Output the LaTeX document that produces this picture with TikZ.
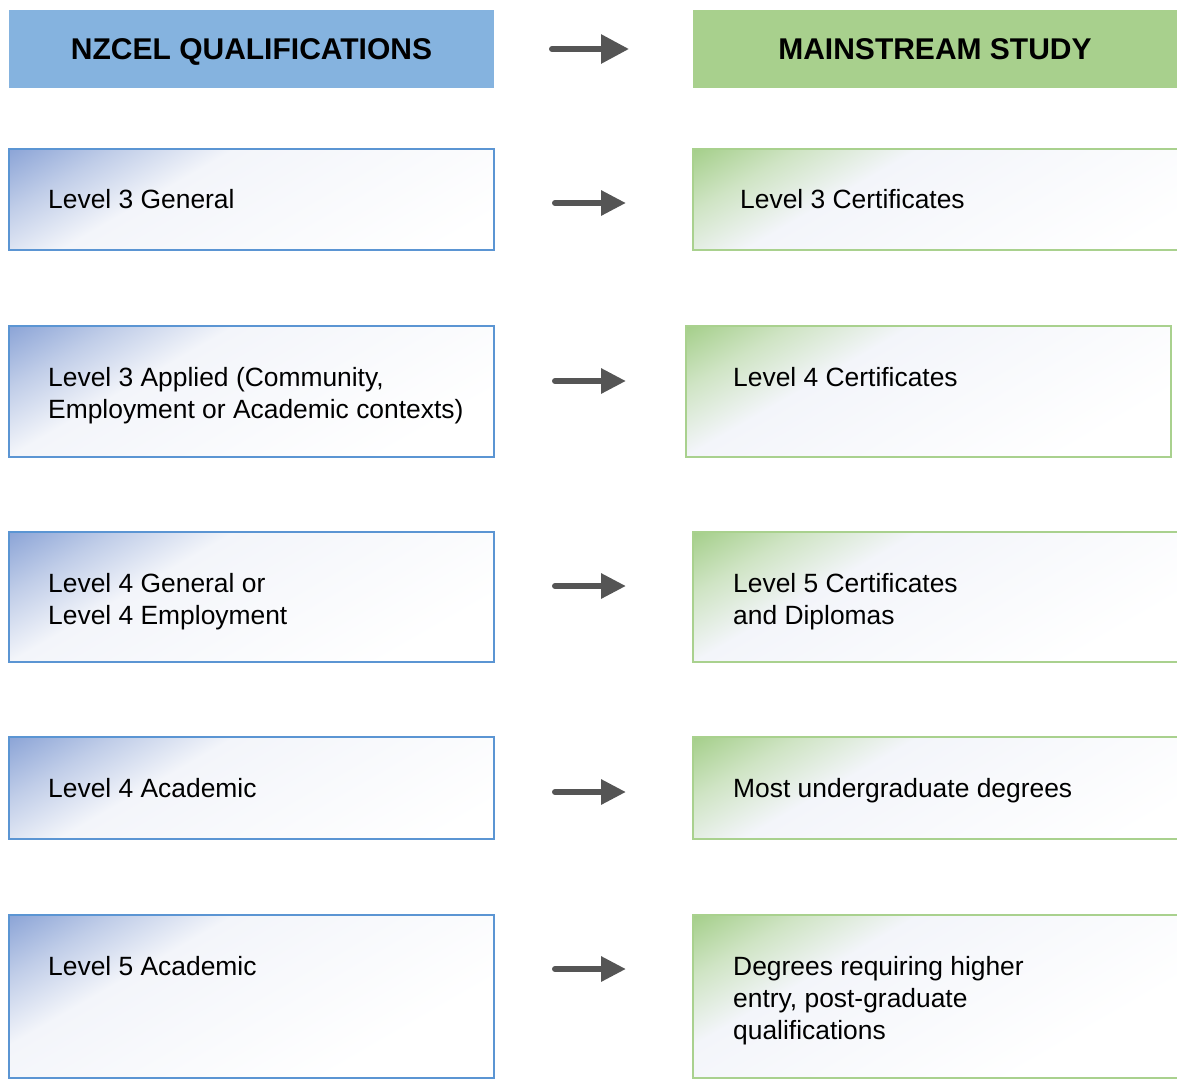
\documentclass[tikz,border=0pt]{standalone}
\usepackage{fontspec}
\setmainfont{Liberation Sans}
\usetikzlibrary{arrows.meta}

% palette
\definecolor{hdrblue}{HTML}{85B3DF}
\definecolor{hdrgreen}{HTML}{A8D08D}
\definecolor{bline}{HTML}{5B95D3}
\definecolor{gline}{HTML}{A9D18E}
\definecolor{bcorner}{HTML}{8AA3D6}
\definecolor{bmid}{HTML}{C0CDE8}
\definecolor{gcorner}{HTML}{A3CE88}
\definecolor{gmid}{HTML}{CFE4C4}
\definecolor{paleend}{HTML}{F3F5FA}
\definecolor{agray}{HTML}{555555}

% corner-to-corner fades used inside the boxes
% (laid on a 500pt square from the box's top-left corner, turned by -60 degrees)
\pgfdeclarehorizontalshading{bluefade}{100bp}{color(0bp)=(bcorner); color(15.5bp)=(bcorner);
  color(21bp)=(bmid); color(27bp)=(paleend); color(46bp)=(white); color(100bp)=(white)}
\pgfdeclarehorizontalshading{greenfade}{100bp}{color(0bp)=(gcorner); color(15.5bp)=(gcorner);
  color(21bp)=(gmid); color(27bp)=(paleend); color(46bp)=(white); color(100bp)=(white)}

\tikzset{
  x=1pt, y=-1pt,
  hdr/.style={minimum width=485pt, minimum height=78pt, inner sep=0pt,
    font=\fontsize{30}{36}\selectfont\bfseries, text height=21.5pt, text depth=0pt},
  fadebox/.style={path picture={
      \shade[shading=#1, shading angle=-60]
        (path picture bounding box.north west) rectangle ++(500,500);}},
  qbox/.style={draw=bline, line width=1.6pt, fill=white, inner sep=0pt,
    minimum width=485pt, fadebox=bluefade},
  sbox/.style={draw=gline, line width=1.6pt, fill=white, inner sep=0pt,
    minimum width=494pt, fadebox=greenfade},
  label/.style={anchor=base west, inner sep=0pt, font=\fontsize{26.4}{32}\selectfont},
  flow/.style={draw=agray, line width=6pt, line cap=round,
    -{Triangle[length=25pt, width=24pt]}},
  bigflow/.style={flow, -{Triangle[length=28pt, width=28pt]}}
}

\newcommand{\twolines}[2]{\begin{tabular}[t]{@{}l@{}}#1\\#2\end{tabular}}
\newcommand{\threelines}[3]{\begin{tabular}[t]{@{}l@{}}#1\\#2\\#3\end{tabular}}

\begin{document}
\begin{tikzpicture}
  \useasboundingbox (0,0) rectangle (1177,1080);
  \clip (0,0) rectangle (1177,1080);

  % column headings
  \node[hdr, fill=hdrblue] (hq) at (251.5,49) {NZCEL QUALIFICATIONS};
  \node[hdr, fill=hdrgreen, minimum width=484pt] (hs) at (935,49) {MAINSTREAM STUDY};

  % NZCEL qualification boxes
  \node[qbox, minimum height=101pt] (q1) at (251.5,199.5) {};
  \node[qbox, minimum height=131pt] (q2) at (251.5,391.5) {};
  \node[qbox, minimum height=130pt] (q3) at (251.5,597) {};
  \node[qbox, minimum height=102pt] (q4) at (251.5,788) {};
  \node[qbox, minimum height=163pt] (q5) at (251.5,996.5) {};

  % mainstream study boxes
  \node[sbox, minimum height=101pt] (s1) at (940,199.5) {};
  \node[sbox, minimum height=131pt, minimum width=485pt] (s2) at (928.5,391.5) {};
  \node[sbox, minimum height=130pt] (s3) at (940,597) {};
  \node[sbox, minimum height=102pt] (s4) at (940,788) {};
  \node[sbox, minimum height=163pt] (s5) at (940,996.5) {};

  % box texts
  \node[label] (tq1) at (48,208.5) {Level 3 General};
  \node[label] (tq2) at (48,386.5) {\twolines{Level 3 Applied (Community,}{Employment or Academic contexts)}};
  \node[label] (tq3) at (48,592.5) {\twolines{Level 4 General or}{Level 4 Employment}};
  \node[label] (tq4) at (48,797.5) {Level 4 Academic};
  \node[label] (tq5) at (48,975.5) {Level 5 Academic};

  \node[label] (ts1) at (740,208.5) {Level 3 Certificates};
  \node[label] (ts2) at (733,386.5) {Level 4 Certificates};
  \node[label] (ts3) at (733,592.5) {\twolines{Level 5 Certificates}{and Diplomas}};
  \node[label] (ts4) at (733,797.5) {Most undergraduate degrees};
  \node[label] (ts5) at (733,975.5) {\threelines{Degrees requiring higher}{entry, post-graduate}{qualifications}};

  % arrow ends
  \coordinate (a0s) at (552,49);  \coordinate (a0e) at (629,49);
  \coordinate (a1s) at (555,203); \coordinate (a1e) at (626,203);
  \coordinate (a2s) at (555,381); \coordinate (a2e) at (626,381);
  \coordinate (a3s) at (555,586); \coordinate (a3e) at (626,586);
  \coordinate (a4s) at (555,792); \coordinate (a4e) at (626,792);
  \coordinate (a5s) at (555,969); \coordinate (a5e) at (626,969);

  % arrows
  \draw[bigflow] (a0s) -- (a0e);
  \draw[flow] (a1s) -- (a1e);
  \draw[flow] (a2s) -- (a2e);
  \draw[flow] (a3s) -- (a3e);
  \draw[flow] (a4s) -- (a4e);
  \draw[flow] (a5s) -- (a5e);
\end{tikzpicture}
\end{document}
